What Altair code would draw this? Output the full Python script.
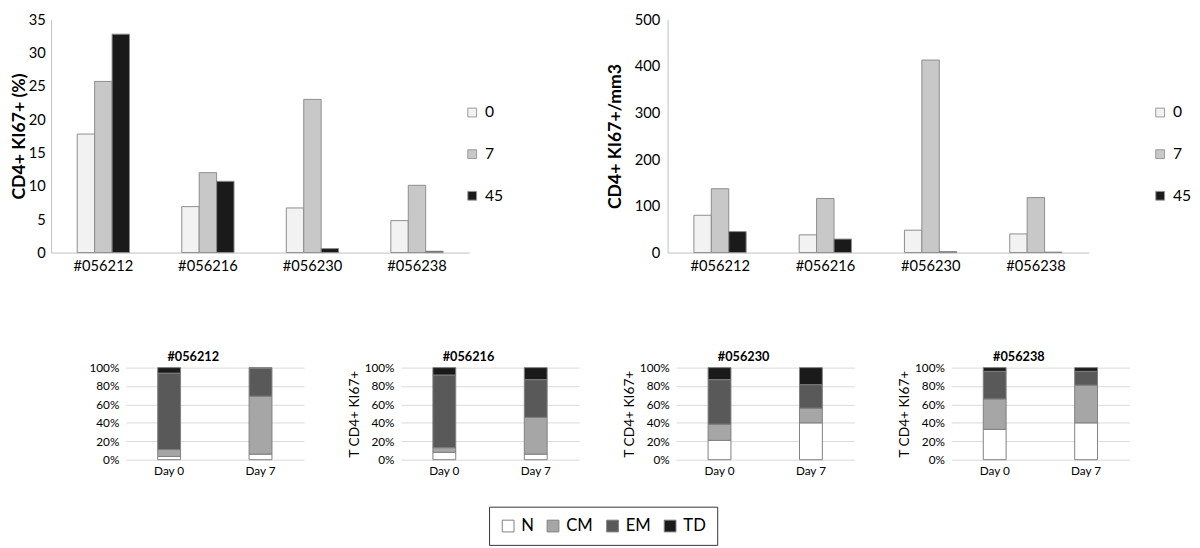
import altair as alt
import pandas as pd

# ---------------- data ----------------
patients = ["#056212", "#056216", "#056230", "#056238"]
day_groups = ["0", "7", "45"]

# CD4+ KI67+ (%)
pct_day0 = [17.8, 6.9, 6.7, 4.8]
pct_day7 = [25.7, 12.0, 23.0, 10.1]
pct_day45 = [32.8, 10.7, 0.6, 0.2]

# CD4+ KI67+/mm3
abs_day0 = [80, 38, 48, 40]
abs_day7 = [137, 116, 413, 118]
abs_day45 = [45, 29, 2, 1]

pct_ticks = [0, 5, 10, 15, 20, 25, 30, 35]
abs_ticks = [0, 100, 200, 300, 400, 500]

# subsets of T CD4+ KI67+ (% of total), per patient
subsets = ["N", "CM", "EM", "TD"]
visits = ["Day 0", "Day 7"]
N_day0 = [3.5, 8, 21, 33]
CM_day0 = [7.5, 5, 17.6, 33]
EM_day0 = [83, 79, 48.4, 30]
TD_day0 = [6, 8, 13, 4]
N_day7 = [6, 6, 40, 40]
CM_day7 = [63, 40, 16, 41]
EM_day7 = [30, 41, 25.5, 15]
TD_day7 = [1, 13, 18.5, 4]
subset_ticks = [0, 0.2, 0.4, 0.6, 0.8, 1.0]

top_colors = ["#f2f2f2", "#c8c8c8", "#1a1a1a"]
subset_colors = ["#ffffff", "#a6a6a6", "#595959", "#1a1a1a"]

FONT = "Lato"

# ---------------- tables ----------------
def top_table(v0, v7, v45):
    rows = []
    for i, p in enumerate(patients):
        for d, vals in zip(day_groups, [v0, v7, v45]):
            rows.append({"patient": p, "day": d, "value": vals[i]})
    return pd.DataFrame(rows)

pct_df = top_table(pct_day0, pct_day7, pct_day45)
abs_df = top_table(abs_day0, abs_day7, abs_day45)

rows = []
day0_lists = [N_day0, CM_day0, EM_day0, TD_day0]
day7_lists = [N_day7, CM_day7, EM_day7, TD_day7]
for i, p in enumerate(patients):
    for visit, lists in zip(visits, [day0_lists, day7_lists]):
        for k, s in enumerate(subsets):
            rows.append({"patient": p, "visit": visit, "subset": s, "idx": k, "value": lists[k][i]})
sub_df = pd.DataFrame(rows)


def top_chart(df, ytitle, ticks, ymax, width, legend_x, title_pad, label_pad):
    return alt.Chart(df).mark_bar(stroke="#8c8c8c", strokeWidth=1).encode(
        x=alt.X("patient:N", sort=patients,
                scale=alt.Scale(paddingInner=0.5, paddingOuter=0.25),
                axis=alt.Axis(title=None, labelAngle=0, ticks=False, domainColor="#bfbfbf",
                              labelFontSize=15, labelPadding=6, labelColor="#000")),
        xOffset=alt.XOffset("day:N", sort=day_groups),
        y=alt.Y("value:Q", scale=alt.Scale(domain=[0, ymax], nice=False),
                axis=alt.Axis(title=ytitle, values=ticks, ticks=False, tickSize=0, grid=False,
                              domainColor="#bfbfbf", labelFontSize=15, labelPadding=label_pad,
                              labelColor="#000", titleFontSize=18, titleFontWeight="bold",
                              titleColor="#000", titlePadding=title_pad)),
        color=alt.Color("day:N", sort=day_groups,
                        scale=alt.Scale(domain=day_groups, range=top_colors),
                        legend=alt.Legend(title=None, orient="none", legendX=legend_x, legendY=87,
                                          symbolType="square", symbolSize=81, labelFontSize=16,
                                          rowPadding=26.5, labelOffset=5, padding=0,
                                          symbolStrokeColor="#999999", symbolStrokeWidth=1,
                                          labelColor="#000")),
    ).properties(width=width, height=238)


top_left = top_chart(pct_df, "CD4+ KI67+ (%)", pct_ticks, 35, 427, 422, 0, 6)
top_right = top_chart(abs_df, "CD4+ KI67+/mm3", abs_ticks, 500, 430, 495, 10, 8)

row1 = alt.hconcat(top_left, top_right, spacing=103.5).resolve_scale(color="independent")


def panel(pid, show_title):
    d = sub_df[sub_df["patient"] == pid]
    yaxis_kwargs = dict(format=".0%", values=subset_ticks, ticks=False, tickSize=0, domain=False,
                        gridColor="#d9d9d9", labelFontSize=12, labelPadding=7, labelColor="#000")
    if show_title:
        yaxis = alt.Axis(title="T CD4+ KI67+", titleFontSize=14, titleFontWeight="normal",
                         titleColor="#000", titlePadding=3, **yaxis_kwargs)
    else:
        yaxis = alt.Axis(title=None, **yaxis_kwargs)
    return alt.Chart(d, title=alt.TitleParams(pid, fontSize=13, fontWeight="bold", offset=-2,
                                               dx=-22, color="#000")).mark_bar(
        stroke="#7f7f7f", strokeWidth=1
    ).encode(
        x=alt.X("visit:N", sort=visits,
                scale=alt.Scale(paddingInner=0.75, paddingOuter=0.35),
                axis=alt.Axis(title=None, labelAngle=0, ticks=False, domain=False,
                              labelFontSize=12, labelPadding=6, labelColor="#000")),
        y=alt.Y("value:Q", stack="normalize", scale=alt.Scale(domain=[0, 1]), axis=yaxis),
        color=alt.Color("subset:N", sort=subsets,
                        scale=alt.Scale(domain=subsets, range=subset_colors),
                        legend=alt.Legend(title=None, orient="none", legendX=371, legendY=142,
                                          direction="horizontal", columns=4,
                                          symbolType="square", symbolSize=144,
                                          symbolStrokeColor="#7f7f7f", symbolStrokeWidth=1,
                                          labelFontSize=17, labelOffset=5, columnPadding=10.8,
                                          padding=11, strokeColor="#333333",
                                          labelColor="#000")),
        order=alt.Order("idx:Q"),
    ).properties(width=182, height=94)


spacer = alt.Chart(pd.DataFrame({"s": [0]})).mark_rect(opacity=0).encode(
    x=alt.value(0), x2=alt.value(20), y=alt.value(0), y2=alt.value(10)
).properties(width=20, height=10)

panels = alt.hconcat(panel(patients[0], False), panel(patients[1], True),
                     panel(patients[2], True), panel(patients[3], True), spacing=43)

row2 = alt.hconcat(spacer, panels, spacing=17.2).resolve_scale(color="independent")

chart = alt.vconcat(row1, row2, spacing=77.5).resolve_scale(color="independent").properties(
    padding={"top": -2, "left": 2, "right": 0, "bottom": 0}
).configure(font=FONT).configure_view(stroke="transparent")

chart.save("out.html", embed_options={"renderer": "svg", "actions": False})
